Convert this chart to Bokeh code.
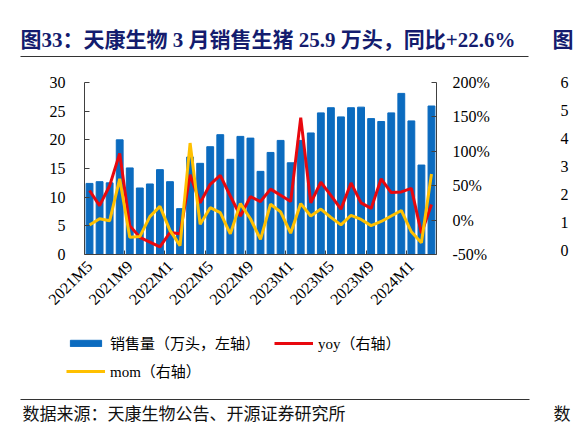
import math
from bokeh.plotting import figure
from bokeh.layouts import column
from bokeh.embed import file_html
from bokeh.resources import INLINE
from bokeh.core.properties import value
from bokeh.models import (Range1d, LinearAxis, FixedTicker, PrintfTickFormatter,
                          Legend, LegendItem)

months = ["2021M5", "2021M6", "2021M7", "2021M8", "2021M9", "2021M10", "2021M11", "2021M12",
          "2022M1", "2022M2", "2022M3", "2022M4", "2022M5", "2022M6", "2022M7", "2022M8",
          "2022M9", "2022M10", "2022M11", "2022M12", "2023M1", "2023M2", "2023M3", "2023M4",
          "2023M5", "2023M6", "2023M7", "2023M8", "2023M9", "2023M10", "2023M11", "2023M12",
          "2024M1", "2024M2", "2024M3"]
sales = [12.4, 12.7, 12.5, 20.0, 15.1, 11.6, 12.3, 14.8, 12.7, 8.0, 17.0, 15.9,
         18.8, 20.9, 16.6, 20.6, 20.3, 14.5, 17.8, 19.9, 16.0, 19.9, 21.2, 24.7,
         25.6, 24.0, 25.6, 25.7, 23.7, 23.2, 24.7, 28.1, 23.3, 15.6, 25.9]
yoy = [43, 21, 50, 97, -8, -25, -32, -39, -18, -20, 66, 25,
       52, 65, 35, 6, 34, 27, 45, 36, 27, 149, 25, 55,
       36, 16, 54, 25, 17, 60, 40, 41, 46, -19, 22.6]
mom = [-7, 2, -1, 60, -25, -24, 5, 20, -15, -37, 112, -6,
       18, 11, -20, 24, 2, -28, 23, 12, -19, 24, 6, 16,
       4, -7, 7, 1, -8, -2, 6, 14, -17, -33, 67]
left_ticks = [0, 5, 10, 15, 20, 25, 30]
right_ticks = [-50, 0, 50, 100, 150, 200]
# tick labels of the neighbouring chart that shows at the right edge of the page
side_ticks = [0, 1, 2, 3, 4, 5, 6]

title = "图33：天康生物 3 月销售生猪 25.9 万头，同比+22.6%"
source = "数据来源：天康生物公告、开源证券研究所"
serif = "'Liberation Serif', 'Noto Sans CJK SC'"
navy = "#141C6E"
blue, red, yellow = "#0B6BBF", "#E8080E", "#FFC000"
W = 576
TOP_H, MAIN_H, LEG_H, BOT_H = 66, 256, 68, 36
RULE_L, RULE_R = 20, 529


def strip(height, y0, rule_y, rule_side, side_text, side_y, side_style):
    # text strip in page pixels; its axis line is the thin rule of the page
    above = rule_side == "above"
    if above:
        yr = Range1d(y0 + height, rule_y)
        borders = dict(min_border_top=rule_y - y0, min_border_bottom=0)
    else:
        yr = Range1d(rule_y, y0)
        borders = dict(min_border_top=0, min_border_bottom=y0 + height - rule_y)
    f = figure(width=W, height=height, x_range=Range1d(RULE_L, RULE_R), y_range=yr,
               output_backend="svg", toolbar_location=None, frame_align=False,
               title=None, x_axis_location=rule_side, y_axis_location="right",
               min_border_left=RULE_L, min_border_right=W - RULE_R, **borders)
    f.outline_line_color = None
    f.grid.visible = False
    xa = f.xaxis[0]
    xa.ticker = FixedTicker(ticks=[])
    xa.axis_line_color = "#333333"
    xa.axis_line_width = 1.2
    xa.major_tick_out = 0
    xa.major_tick_in = 0
    xa.minor_tick_out = 0
    xa.minor_tick_in = 0
    xa.major_label_standoff = 0
    # first character of the next chart's caption, past the gap between charts
    ya = f.yaxis[0]
    ya.ticker = FixedTicker(ticks=[side_y])
    ya.major_label_overrides = {side_y: side_text}
    ya.axis_line_color = None
    ya.major_tick_out = 0
    ya.major_tick_in = 0
    ya.minor_tick_out = 0
    ya.minor_tick_in = 0
    ya.major_label_standoff = 24
    for k, v in side_style.items():
        setattr(ya, "major_label_" + k, v)
    return f


# title strip
top = strip(TOP_H, 0, 56, "below", "图", 39,
            dict(text_font=serif, text_font_size="21px", text_font_style="bold",
                 text_color=navy))
top.text(x=[20], y=[39], text=[title], text_font=value(serif),
         text_font_size="21px", text_font_style="bold", text_color=navy,
         text_baseline="middle")

# main chart
idx = list(range(len(months)))
p = figure(width=W, height=MAIN_H, x_range=Range1d(-0.5, len(months) - 0.5),
           y_range=Range1d(0, 30), output_backend="svg", toolbar_location=None,
           frame_align=False, title=None,
           min_border_left=84, min_border_right=W - 436,
           min_border_top=82 - TOP_H, min_border_bottom=TOP_H + MAIN_H - 254)
p.extra_y_ranges = {"pct": Range1d(-50, 200), "side": Range1d(-0.14, 6.0)}
p.xgrid.visible = False
p.ygrid.visible = False
p.outline_line_color = None

p.vbar(x=idx, top=sales, width=0.68, color=blue)
p.line(x=idx, y=yoy, y_range_name="pct", line_color=red, line_width=3)
p.line(x=idx, y=mom, y_range_name="pct", line_color=yellow, line_width=3)

label_pos = idx[::4]
p.xaxis.ticker = FixedTicker(ticks=label_pos,
                             minor_ticks=[i - 0.5 for i in label_pos[1:]])
p.xaxis.major_label_overrides = {i: months[i] for i in label_pos}
p.xaxis.major_label_orientation = math.pi / 4
p.xaxis.major_tick_in = 0
p.xaxis.major_tick_out = 0
p.xaxis.minor_tick_in = 4
p.xaxis.minor_tick_out = 0
p.xaxis.major_label_standoff = 9

p.yaxis.ticker = FixedTicker(ticks=left_ticks)
p.yaxis.major_tick_in = 5
p.yaxis.major_tick_out = 0
p.yaxis.minor_tick_in = 0
p.yaxis.minor_tick_out = 0
p.yaxis.major_label_standoff = 19

ax_r = LinearAxis(y_range_name="pct", ticker=FixedTicker(ticks=right_ticks),
                  formatter=PrintfTickFormatter(format="%d%%"))
ax_r.major_tick_in = 5
ax_r.major_tick_out = 0
ax_r.minor_tick_in = 0
ax_r.minor_tick_out = 0
ax_r.major_label_standoff = 16
p.add_layout(ax_r, "right")

# left axis of the next chart on the page, cut by the page edge
ax_side = LinearAxis(y_range_name="side", ticker=FixedTicker(ticks=side_ticks))
ax_side.major_label_standoff = 62
p.add_layout(ax_side, "right")

for ax in [p.xaxis[0], p.yaxis[0], ax_r]:
    ax.axis_line_color = "#404040"
    ax.major_tick_line_color = "#404040"
    ax.minor_tick_line_color = "#404040"
for ax in [p.xaxis[0], p.yaxis[0], ax_r, ax_side]:
    ax.major_label_text_font = "Liberation Serif"
    ax.major_label_text_font_size = "16px"
    ax.major_label_text_color = "black"
ax_side.axis_line_color = None
ax_side.major_tick_line_color = None
ax_side.minor_tick_line_color = None

# legend strip: swatches come from renderers styled like the chart ones,
# mapped on ranges far from their data so only the legend shows
leg = figure(width=W, height=LEG_H, x_range=Range1d(0, W),
             y_range=Range1d(TOP_H + MAIN_H + LEG_H, TOP_H + MAIN_H),
             output_backend="svg", toolbar_location=None, min_border=0,
             frame_align=False, title=None,
             x_axis_location=None, y_axis_location=None)
leg.outline_line_color = None
leg.grid.visible = False
leg.extra_x_ranges = {"off": Range1d(-2001, -2000)}
leg.extra_y_ranges = {"off": Range1d(-2001, -2000)}
off = dict(x_range_name="off", y_range_name="off")
k_bar = leg.vbar(x=idx, top=sales, width=0.68, color=blue, **off)
k_yoy = leg.line(x=idx, y=yoy, line_color=red, line_width=3, **off)
k_mom = leg.line(x=idx, y=mom, line_color=yellow, line_width=3, **off)
style = dict(orientation="horizontal", glyph_width=39, glyph_height=8,
             label_height=20, spacing=14, label_standoff=5, padding=0, margin=0,
             border_line_color=None, background_fill_alpha=0,
             label_text_font=serif, label_text_font_size="15px",
             label_text_color="black")
leg.add_layout(Legend(items=[LegendItem(label="销售量（万头，左轴）", renderers=[k_bar]),
                             LegendItem(label="yoy（右轴）", renderers=[k_yoy])],
                      location=(66, 37), **style))
leg.add_layout(Legend(items=[LegendItem(label="mom（右轴）", renderers=[k_mom])],
                      location=(66, 9), **style))

# source strip
y_bot = TOP_H + MAIN_H + LEG_H
bot = strip(BOT_H, y_bot, 399, "above", "数", 414,
            dict(text_font=serif, text_font_size="17px", text_color="#111111"))
bot.text(x=[22], y=[414], text=[source], text_font=value(serif),
         text_font_size="17px", text_color="#111111", text_baseline="middle")

layout = column(top, p, leg, bot)
open("out.html", "w").write(file_html(layout, INLINE))
